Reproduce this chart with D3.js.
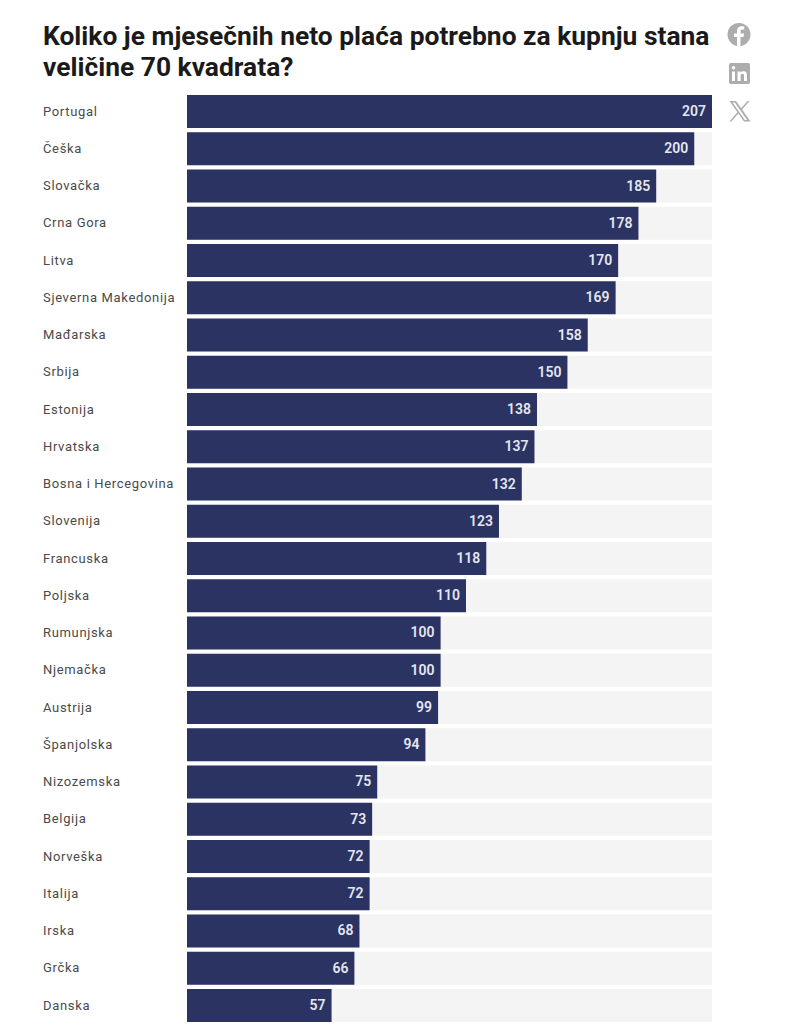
<!DOCTYPE html>
<html>
<head>
<meta charset="utf-8">
<script src="https://cdn.jsdelivr.net/npm/d3@7"></script>
<style>
body { margin: 0; background: #fff; }
text { font-family: Roboto, sans-serif; }
</style>
</head>
<body>
<div id="chart"></div>
<script>
var countries = ["Portugal", "Češka", "Slovačka", "Crna Gora", "Litva", "Sjeverna Makedonija", "Mađarska", "Srbija", "Estonija", "Hrvatska", "Bosna i Hercegovina", "Slovenija", "Francuska", "Poljska", "Rumunjska", "Njemačka", "Austrija", "Španjolska", "Nizozemska", "Belgija", "Norveška", "Italija", "Irska", "Grčka", "Danska"];
var salaries = [207, 200, 185, 178, 170, 169, 158, 150, 138, 137, 132, 123, 118, 110, 100, 100, 99, 94, 75, 73, 72, 72, 68, 66, 57];
var titleLines = ["Koliko je mjesečnih neto plaća potrebno za kupnju stana", "veličine 70 kvadrata?"];

var svg = d3.select("#chart")
	.append("svg")
	.attr("width", 800)
	.attr("height", 1032)
	.style("display", "block");

var x = d3.scaleLinear()
	.domain([0, d3.max(salaries)])
	.range([187, 712]);

var y = d3.scaleBand()
	.domain(countries)
	.range([95, 1022])
	.paddingInner(0.114);

svg.selectAll(".title")
	.data(titleLines)
	.enter()
	.append("text")
	.attr("class", "title")
	.attr("x", 43)
	.attr("y", (d, i) => 44.5 + i * 31.5)
	.text(d => d)
	.style("font-size", "26.4px")
	.style("font-weight", 700)
	.attr("fill", "#1a1a1a");

svg.selectAll(".bg")
	.data(countries)
	.enter()
	.append("rect")
	.attr("class", "bg")
	.attr("x", x(0))
	.attr("y", d => y(d))
	.attr("width", x.range()[1] - x(0))
	.attr("height", y.bandwidth())
	.attr("fill", "#f4f4f4");

svg.selectAll(".bar")
	.data(salaries)
	.enter()
	.append("rect")
	.attr("class", "bar")
	.attr("x", x(0))
	.attr("y", (d, i) => y(countries[i]))
	.attr("width", d => x(d) - x(0))
	.attr("height", y.bandwidth())
	.attr("fill", "#2b3362");

svg.selectAll(".country")
	.data(countries)
	.enter()
	.append("text")
	.attr("class", "country")
	.attr("x", 43)
	.attr("y", d => y(d) + y.bandwidth() / 2 - 0.4)
	.attr("dy", "0.35em")
	.text(d => d)
	.style("font-size", "13px")
	.style("letter-spacing", "0.66px")
	.attr("fill", "#4a4a4a");

svg.selectAll(".value")
	.data(salaries)
	.enter()
	.append("text")
	.attr("class", "value")
	.attr("x", d => x(d) - 6)
	.attr("y", (d, i) => y(countries[i]) + y.bandwidth() / 2 - 0.4)
	.attr("dy", "0.35em")
	.text(d => d)
	.style("font-size", "14px")
	.style("font-weight", 600)
	.style("text-anchor", "end")
	.attr("fill", "#e4e7f0");

// share icons
var icons = svg.append("g").attr("fill", "#adadad");

icons.append("circle").attr("cx", 739).attr("cy", 34.5).attr("r", 11.5);
icons.append("path")
	.attr("d", "M737 46v-9h-3v-3.5h3v-2.7c0-3 1.800-4.600 4.500-4.600 1.300 0 2.400.1 2.700.15v3.100h-1.900c-1.500 0-1.800.7-1.800 1.750v2.300h3.500l-.5 3.500h-3v9z")
	.attr("fill", "#fff");

icons.append("rect").attr("x", 729).attr("y", 63).attr("width", 21).attr("height", 21).attr("rx", 2);
icons.append("rect").attr("x", 732).attr("y", 71.500).attr("width", 3).attr("height", 9.500).attr("fill", "#fff");
icons.append("circle").attr("cx", 733.500).attr("cy", 67.800).attr("r", 1.800).attr("fill", "#fff");
icons.append("path")
	.attr("d", "M737.500 71.500h2.900v1.300c.5-.9 1.600-1.600 3-1.600 3 0 3.600 1.900 3.600 4.400v5.400h-3v-4.800c0-1.200 0-2.500-1.500-2.500s-1.900 1.200-1.900 2.400v4.900h-3.100z")
	.attr("fill", "#fff");

icons.append("path")
	.attr("fill-rule", "evenodd")
	.attr("d", "M729.500 101h6.500l5.200 7.300 6.300-7.300h2l-7.400 8.600 8.400 12h-6.500l-5.700-8-6.900 8h-2l8-9.300zM732.500 102.500l12.300 17.600h2.300l-12.300-17.600z");
</script>
</body>
</html>
